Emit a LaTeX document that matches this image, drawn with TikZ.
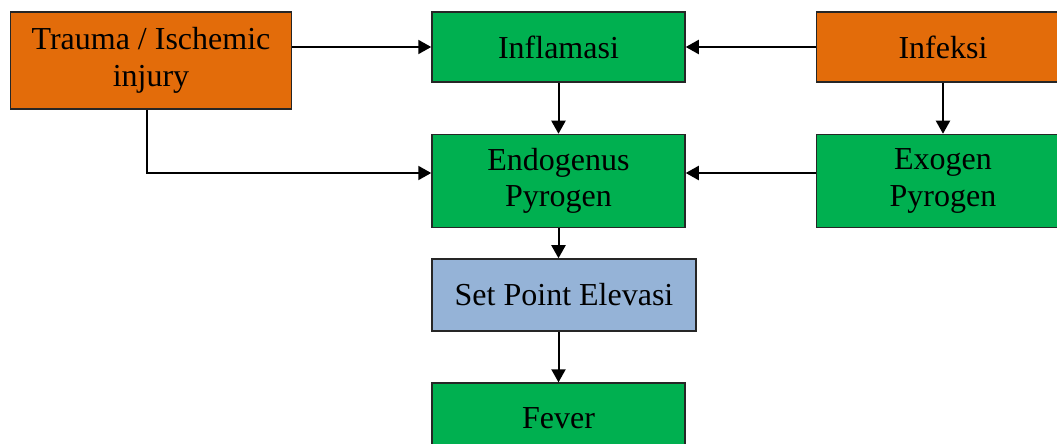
\documentclass[tikz,border=0pt]{standalone}
\usepackage{fontspec}
\setmainfont{Liberation Serif}
\usetikzlibrary{arrows.meta,positioning}
\definecolor{orangebox}{RGB}{227,108,10}
\definecolor{greenbox}{RGB}{0,176,80}
\definecolor{bluebox}{RGB}{149,179,215}

\begin{document}
\begin{tikzpicture}[x=0.5pt,y=-0.5pt,>={Triangle[length=6.5pt,width=7pt]},line width=1pt,
    box/.style={draw=black!85,line width=0.75pt,inner sep=0pt,align=center,
      minimum width=126.5pt,minimum height=35pt,font=\fontsize{16}{18.3}\selectfont},
    cause/.style={box,fill=orangebox},
    proc/.style={box,fill=greenbox}]
      \useasboundingbox (0,0) rectangle (1057,444);
      \node[proc] (infl) at (558.5,47) {Inflamasi};
      \node[cause,minimum width=140.5pt,minimum height=48.5pt] (trauma)
        [below left=0pt and 69.5pt of infl.north west] {Trauma / Ischemic\\injury};
      \node[cause] (infek) [right=65pt of infl] {Infeksi};
      \node[proc,minimum height=46.5pt] (endo) [below=25.5pt of infl] {Endogenus\\Pyrogen};
      \node[proc,minimum height=46.5pt] (exo) [below=25.5pt of infek] {Exogen\\Pyrogen};
      \node[box,fill=bluebox,minimum width=132pt,minimum height=36pt] (setp)
        [below right=15pt and 0pt of endo.south west] {Set Point Elevasi};
      \node[proc] (fever) [below right=25.3pt and 0pt of setp.south west] {Fever};

      \coordinate (endoin) at ([yshift=4pt]endo.west);
      \coordinate (endoout) at ([yshift=4pt]endo.east);
      \coordinate (exoout) at ([yshift=4pt]exo.west);

      \path[->]
      (trauma.east |- infl.west) edge (infl.west)
      (infek) edge (infl)
      (infl) edge (endo)
      (infek) edge (exo)
      (exoout) edge (endoout)
      (endo) edge (endo |- setp.north)
      (endo |- setp.south) edge (endo |- fever.north)
      ;
      \draw[->] ([xshift=-2pt]trauma.south) |- (endoin);
    \end{tikzpicture}
\end{document}
